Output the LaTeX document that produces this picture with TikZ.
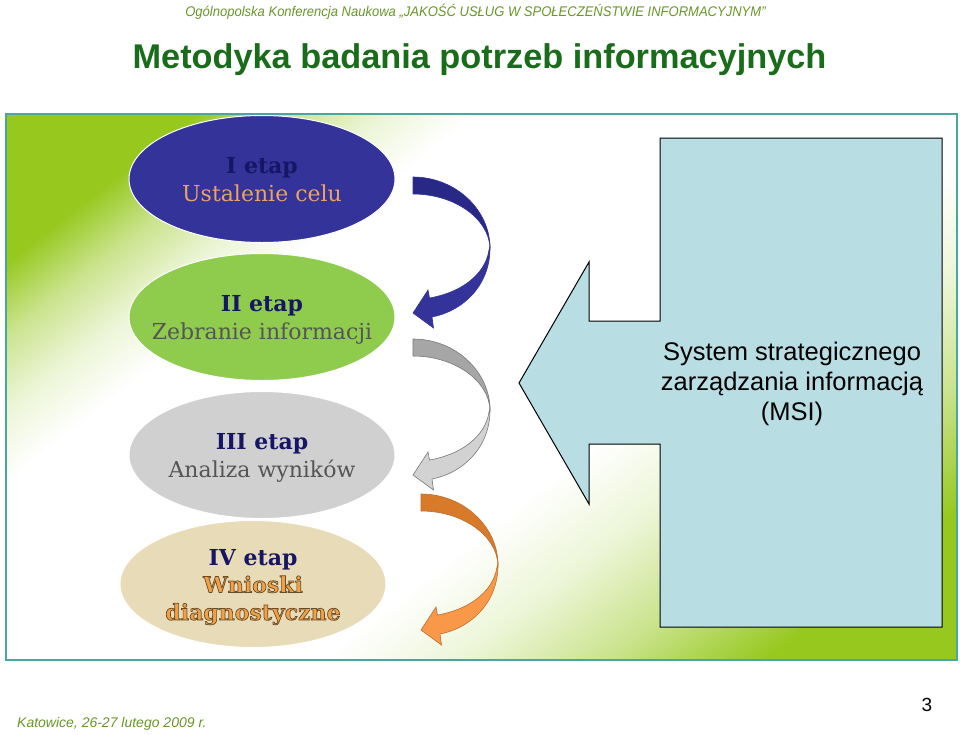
\documentclass[tikz,border=0pt]{standalone}
\usepackage{fontspec}
\usetikzlibrary{shapes.geometric}
\setmainfont{DejaVu Serif}
\newfontfamily\sansfont{Liberation Sans}
\newfontfamily\hdrfont{Liberation Sans}[FakeStretch=0.93]
\definecolor{bgg}{RGB}{150,200,30}
\colorlet{bgmid}{bgg!50!white}
\colorlet{bglight}{bgg!18!white}
\definecolor{framec}{RGB}{70,168,158}
\definecolor{hdrc}{RGB}{105,150,40}
\definecolor{titlec}{RGB}{25,108,25}
\definecolor{blueell}{RGB}{51,51,153}
\definecolor{greenell}{RGB}{143,204,78}
\definecolor{grayell}{RGB}{208,208,208}
\definecolor{tanell}{RGB}{232,220,184}
\definecolor{navy}{RGB}{22,22,100}
\definecolor{ustc}{RGB}{236,162,100}
\definecolor{darkgraytxt}{RGB}{85,85,85}
\definecolor{wnc}{RGB}{242,160,70}
\definecolor{msifill}{RGB}{184,221,227}
\definecolor{blueback}{RGB}{40,40,135}
\definecolor{bluefront}{RGB}{51,51,153}
\definecolor{grayback}{RGB}{166,166,166}
\definecolor{grayfront}{RGB}{210,210,210}
\definecolor{grayline}{RGB}{120,120,120}
\definecolor{orback}{RGB}{215,122,42}
\definecolor{orfront}{RGB}{248,152,72}
\definecolor{orline}{RGB}{190,110,50}
\pgfdeclarehorizontalshading{bgshade}{100bp}{color(0bp)=(bgg); color(23bp)=(bgg); color(27bp)=(bgmid); color(31bp)=(bglight); color(35bp)=(white); color(58bp)=(white); color(64bp)=(bglight); color(70bp)=(bgmid); color(77bp)=(bgg); color(100bp)=(bgg)}
\newcommand\outlinedtext[1]{\special{pdf:literal direct 0.40 0.30 0.16 RG 0.7 w 2 Tr}#1\special{pdf:literal direct 0 Tr}}
\newcommand\curvarrow[4]{%
 \begin{scope}[shift={#1}]
  \fill[#2, draw=#4, line width=0.6] (413,177) .. controls (455.5,177) and (490,209.7) .. (490,248) .. controls (489,219) and (455,194) .. (413,194) -- cycle;
  \fill[#3, draw=#4, line width=0.6] (490,246) .. controls (491,285) and (463,311) .. (432,317) -- (433.5,328) -- (413,313) -- (428,290) -- (429.5,298) .. controls (459,293) and (485,276) .. (489,250) -- cycle;
 \end{scope}}
\tikzset{
 stage/.style={ellipse, minimum width=266, minimum height=127, inner sep=0, draw=white, line width=1},
 stagetext/.style={align=center, inner sep=0, yshift=-3pt, font=\fontsize{22}{27.5}\selectfont},
 bigarrow/.style={fill=msifill, draw=black, line width=1},
}
\begin{document}
\begin{tikzpicture}[x=1pt,y=-1pt]
\useasboundingbox (0,0) rectangle (960,734);
\fill[white] (0,0) rectangle (960,734);
% header and title
\node[font=\hdrfont\itshape\fontsize{14}{16}\selectfont, text=hdrc, anchor=base, inner sep=0] (hdr) at (475.5,16) {Ogólnopolska Konferencja Naukowa „JAKOŚĆ USŁUG W SPOŁECZEŃSTWIE INFORMACYJNYM”};
\node[font=\sansfont\bfseries\fontsize{34.3}{40}\selectfont, text=titlec, anchor=base, inner sep=0] (title) at (479.5,68) {Metodyka badania potrzeb informacyjnych};
% frame
\node[shade, shading=bgshade, shading angle=-52, draw=framec, line width=1.5, minimum width=951, minimum height=546, inner sep=0] (frame) at (481.5,387) {};
% stages
\node[stage, fill=blueell] (e1) at (262,179) {};
\node[stage, fill=greenell] (e2) at (262,317) {};
\node[stage, fill=grayell] (e3) at (262,455) {};
\node[stage, fill=tanell] (e4) at (253,584) {};
\node[stagetext] (t1) at (e1.center) {{\bfseries\color{navy}I etap}\strut\\{\color{ustc}Ustalenie celu}\strut};
\node[stagetext] (t2) at (e2.center) {{\bfseries\color{navy}II etap}\strut\\{\color{darkgraytxt}Zebranie informacji}\strut};
\node[stagetext] (t3) at (e3.center) {{\bfseries\color{navy}III etap}\strut\\{\color{darkgraytxt}Analiza wyników}\strut};
\node[stagetext] (t4) at (e4.center) {{\bfseries\color{navy}IV etap}\strut\\{\bfseries\color{wnc}\outlinedtext{Wnioski}}\strut\\{\bfseries\color{wnc}\outlinedtext{diagnostyczne}}\strut};
% curved arrows
\curvarrow{(0,0)}{blueback}{bluefront}{bluefront}
\curvarrow{(0,162)}{grayback}{grayfront}{grayline}
\curvarrow{(8,317)}{orback}{orfront}{orline}
% MSI arrow
\draw[bigarrow] (660,138) -- (942,138) -- (942,627) -- (660,627) -- (660,444) -- (589,444) -- (589,504) -- (519,383) -- (589,262) -- (589,321) -- (660,321) -- cycle;
\node[font=\sansfont\fontsize{25.5}{30}\selectfont, align=center, inner sep=0] (msi) at (792,384) {System strategicznego\\zarządzania informacją\\(MSI)};
% footer
\node[font=\sansfont\itshape\fontsize{14}{16}\selectfont, text=hdrc, anchor=base west, inner sep=0] (foot) at (17,727) {Katowice, 26-27 lutego 2009 r.};
\node[font=\sansfont\fontsize{19}{22}\selectfont, anchor=base, inner sep=0] (pg) at (927,711) {3};
\end{tikzpicture}
\end{document}
